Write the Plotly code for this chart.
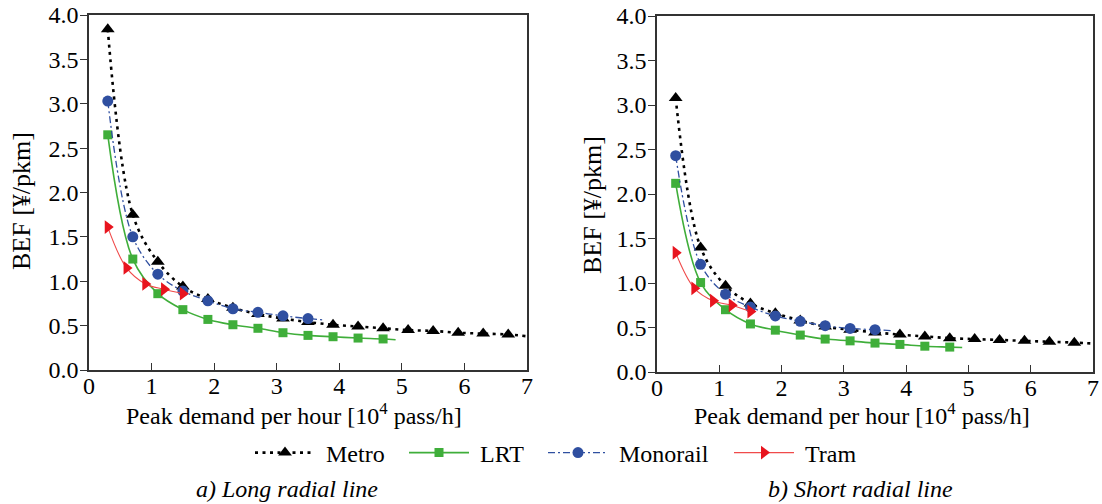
import plotly.graph_objects as go

# ---------------- data ----------------
x_main = [0.3, 0.7, 1.1, 1.5, 1.9, 2.3, 2.7, 3.1, 3.5, 3.9, 4.3, 4.7, 5.1, 5.5, 5.9, 6.3, 6.7]
x_lrt = [0.3, 0.7, 1.1, 1.5, 1.9, 2.3, 2.7, 3.1, 3.5, 3.9, 4.3, 4.7]
x_mono = [0.3, 0.7, 1.1, 1.5, 1.9, 2.3, 2.7, 3.1, 3.5]
x_tram = [0.3, 0.6, 0.9, 1.2, 1.5]

# a) Long radial line
metro_a = [3.84, 1.75, 1.22, 0.94, 0.80, 0.70, 0.63, 0.58, 0.54, 0.51, 0.49, 0.47, 0.45, 0.44, 0.42, 0.41, 0.40]
lrt_a = [2.65, 1.25, 0.86, 0.68, 0.57, 0.51, 0.47, 0.42, 0.39, 0.375, 0.36, 0.35]
mono_a = [3.03, 1.50, 1.08, 0.89, 0.78, 0.69, 0.65, 0.61, 0.58]
tram_a = [1.61, 1.15, 0.97, 0.91, 0.86]
# curve ends (beyond the last marker)
metro_a_end = (7.0, 0.38)
lrt_a_end = (4.9, 0.34)
mono_a_end = (3.74, 0.565)

# b) Short radial line
metro_b = [3.08, 1.40, 0.97, 0.77, 0.66, 0.58, 0.51, 0.475, 0.445, 0.42, 0.40, 0.38, 0.37, 0.36, 0.35, 0.34, 0.33]
lrt_b = [2.12, 1.005, 0.70, 0.54, 0.47, 0.415, 0.37, 0.35, 0.325, 0.31, 0.29, 0.28]
mono_b = [2.43, 1.21, 0.875, 0.73, 0.63, 0.57, 0.52, 0.49, 0.475]
tram_b = [1.34, 0.94, 0.80, 0.75, 0.68]
metro_b_end = (7.0, 0.32)
lrt_b_end = (4.9, 0.275)
mono_b_end = (3.76, 0.465)

x_ticks = [0, 1, 2, 3, 4, 5, 6, 7]
y_ticks = [0.0, 0.5, 1.0, 1.5, 2.0, 2.5, 3.0, 3.5, 4.0]
series_names = ["Metro", "LRT", "Monorail", "Tram"]
x_title = "Peak demand per hour [10<sup>4</sup> pass/h]"
y_title = "BEF [¥/pkm]"
captions = ["a) Long radial line", "b) Short radial line"]

# ---------------- styles ----------------
FONT = "Liberation Serif, Times New Roman, DejaVu Serif, serif"
styles = {
    "Metro": dict(line=dict(color="black", width=2.6, dash="3px,4.5px", shape="spline"),
                  marker=dict(symbol="triangle-up", size=12, color="black")),
    "LRT": dict(line=dict(color="#3fae3a", width=1.6, shape="spline"),
                marker=dict(symbol="square", size=9, color="#3fae3a")),
    "Monorail": dict(line=dict(color="#2f4fa0", width=1.3, dash="7px,3px,2px,3px", shape="spline"),
                     marker=dict(symbol="circle", size=11, color="#2f4fa0")),
    "Tram": dict(line=dict(color="#f04a4a", width=1.1, shape="spline"),
                 marker=dict(symbol="triangle-right", size=12, color="#e8141e")),
}

fig = go.Figure()

panels = [
    ("x", "y", [(x_main, metro_a, metro_a_end), (x_lrt, lrt_a, lrt_a_end),
                (x_mono, mono_a, mono_a_end), (x_tram, tram_a, None)]),
    ("x2", "y2", [(x_main, metro_b, metro_b_end), (x_lrt, lrt_b, lrt_b_end),
                  (x_mono, mono_b, mono_b_end), (x_tram, tram_b, None)]),
]

for xa, ya, data in panels:
    for name, (xs, ys, end) in zip(series_names, data):
        st = styles[name]
        lx = list(xs) + ([end[0]] if end else [])
        ly = list(ys) + ([end[1]] if end else [])
        fig.add_trace(go.Scatter(x=lx, y=ly, mode="lines", line=st["line"],
                                 xaxis=xa, yaxis=ya, showlegend=False, hoverinfo="skip"))
        fig.add_trace(go.Scatter(x=xs, y=ys, mode="markers", marker=st["marker"],
                                 xaxis=xa, yaxis=ya, showlegend=False))

W, H = 1102, 504
def px_x(p):
    return p / W
def px_y(p):
    return 1 - p / H

# legend entries, each in its own legend box so they can be placed like the reference
legend_left_px = [250, 404, 543, 729]
legend_ids = ["legend", "legend2", "legend3", "legend4"]
legend_layout = {}
for name, lid, lx in zip(series_names, legend_ids, legend_left_px):
    st = styles[name]
    lg_line = dict(st["line"])
    lg_line["shape"] = "linear"
    fig.add_trace(go.Scatter(x=[None], y=[None], mode="lines+markers", name="\u00a0" + name,
                             line=lg_line, marker=st["marker"], legend=lid))
    legend_layout[lid] = dict(orientation="h", x=px_x(lx), xanchor="left", y=px_y(453),
                              yanchor="middle", font=dict(family=FONT, size=24),
                              itemwidth=60, bgcolor="rgba(0,0,0,0)")

axis_common = dict(showline=True, linecolor="#333333", linewidth=1.5, mirror=True,
                   showgrid=False, zeroline=False, tickcolor="#333333", automargin=False,
                   tickfont=dict(family=FONT, size=24, color="black"))

fig.update_layout(
    width=W, height=H,
    margin=dict(l=0, r=0, t=0, b=0, autoexpand=False),
    paper_bgcolor="white", plot_bgcolor="white",
    font=dict(family=FONT, size=24, color="black"),
    xaxis=dict(domain=[px_x(89), px_x(527)], range=[0, 7], tickvals=x_ticks,
               ticks="inside", ticklen=7, ticklabelstandoff=-7, anchor="y", **axis_common),
    yaxis=dict(domain=[px_y(370), px_y(15)], range=[0, 4], tickvals=y_ticks,
               tickformat=".1f", ticks="outside", ticklen=7, ticklabelstandoff=-3,
               anchor="x", **axis_common),
    xaxis2=dict(domain=[px_x(657), px_x(1093)], range=[0, 7], tickvals=x_ticks,
                ticks="inside", ticklen=7, ticklabelstandoff=-7, anchor="y2", **axis_common),
    yaxis2=dict(domain=[px_y(372), px_y(16)], range=[0, 4], tickvals=y_ticks,
                tickformat=".1f", ticks="outside", ticklen=7, ticklabelstandoff=-3,
                anchor="x2", **axis_common),
    showlegend=True,
    **legend_layout,
)

ann = []
for cx, cy in [(294, 414), (862, 414)]:
    ann.append(dict(text=x_title, x=px_x(cx), y=px_y(cy), xref="paper", yref="paper",
                    showarrow=False, xanchor="center", yanchor="middle", font=dict(family=FONT, size=24)))
for cx, cy in [(21, 201), (592, 205)]:
    ann.append(dict(text=y_title, x=px_x(cx), y=px_y(cy), xref="paper", yref="paper", textangle=-90,
                    showarrow=False, xanchor="center", yanchor="middle", font=dict(family=FONT, size=26)))
for cap, cx in zip(captions, [287, 860]):
    ann.append(dict(text="<i>" + cap + "</i>", x=px_x(cx), y=px_y(489), xref="paper", yref="paper",
                    showarrow=False, xanchor="center", yanchor="middle", font=dict(family=FONT, size=24)))
fig.update_layout(annotations=ann)

fig.write_html("out.html")
